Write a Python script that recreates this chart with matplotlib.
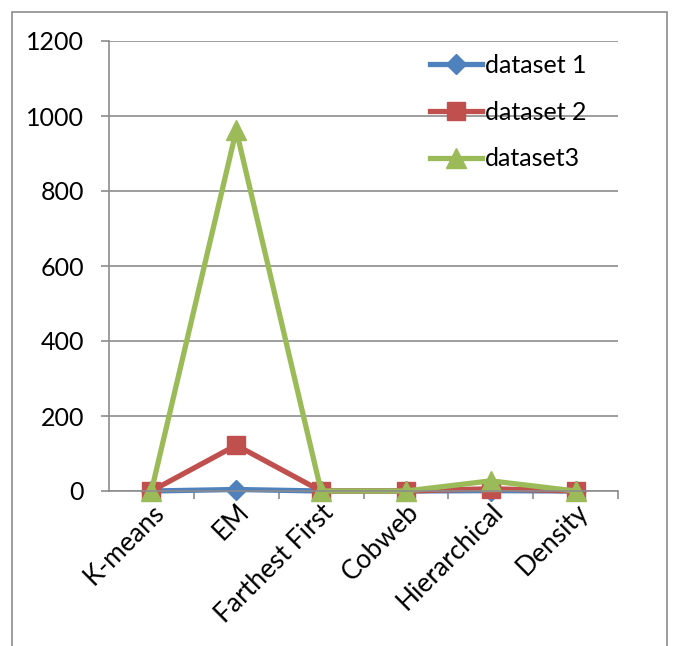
import matplotlib.pyplot as plt
import matplotlib.patches as mpatches
from matplotlib.ticker import MultipleLocator, FixedLocator

plt.rcParams['font.family'] = ['Lato', 'DejaVu Sans']

categories = ['K-means', 'EM', 'Farthest First', 'Cobweb', 'Hierarchical', 'Density']
dataset1 = [0, 4, 0, 0, 1, 0]
dataset2 = [0, 122, 0, 0, 6, 0]
dataset3 = [0, 962, 0, 0, 27, 0]

series = [
    ('dataset 1', dataset1, '#4F81BD', 'D', 10),
    ('dataset 2', dataset2, '#C0504D', 's', 13),
    ('dataset3', dataset3, '#9BBB59', '^', 15),
]

fig = plt.figure(figsize=(6.76, 6.46), dpi=100)
ax = fig.add_axes([109 / 676, 1 - 491 / 646, (618 - 109) / 676, (491 - 41) / 646])

# outer chart frame
fig.patches.append(mpatches.Rectangle((12 / 676, -0.05), (667 - 12) / 676, 1.05 - 12 / 646,
                                      transform=fig.transFigure, fill=False,
                                      edgecolor='#8c8c8c', linewidth=1.2))

x = list(range(len(categories)))
for name, vals, col, mk, ms in series:
    ax.plot(x, vals, color=col, linewidth=3.8, marker=mk, markersize=ms,
            markerfacecolor=col, markeredgecolor=col, label=name, clip_on=False)

ax.set_xlim(-0.5, len(categories) - 0.5)
ax.set_ylim(0, 1200)
ax.yaxis.set_major_locator(MultipleLocator(200))
ax.grid(axis='y', color='#8c8c8c', linewidth=1.2)
ax.set_axisbelow(True)

ax.set_xticks(x)
ax.set_xticklabels(categories, rotation=45, ha='right', rotation_mode='anchor', fontsize=19)
ax.xaxis.set_minor_locator(FixedLocator([i + 0.5 for i in x]))
ax.tick_params(axis='x', which='major', length=0, pad=6)
ax.tick_params(axis='x', which='minor', length=6, color='#8c8c8c', width=1.2, direction='out')
ax.tick_params(axis='y', length=6, color='#8c8c8c', width=1.2, labelsize=18, pad=12)

for s in ['top', 'right']:
    ax.spines[s].set_visible(False)
for s in ['left', 'bottom']:
    ax.spines[s].set_color('#8c8c8c')
    ax.spines[s].set_linewidth(1.2)

ax.legend(loc='upper left', bbox_to_anchor=(420 / 676, 1 - 44 / 646),
          bbox_transform=fig.transFigure, frameon=False, fontsize=18,
          handlelength=2.1, handletextpad=0.1, labelspacing=0.95, borderaxespad=0)

fig.savefig('out.png', dpi=100, facecolor='white')
